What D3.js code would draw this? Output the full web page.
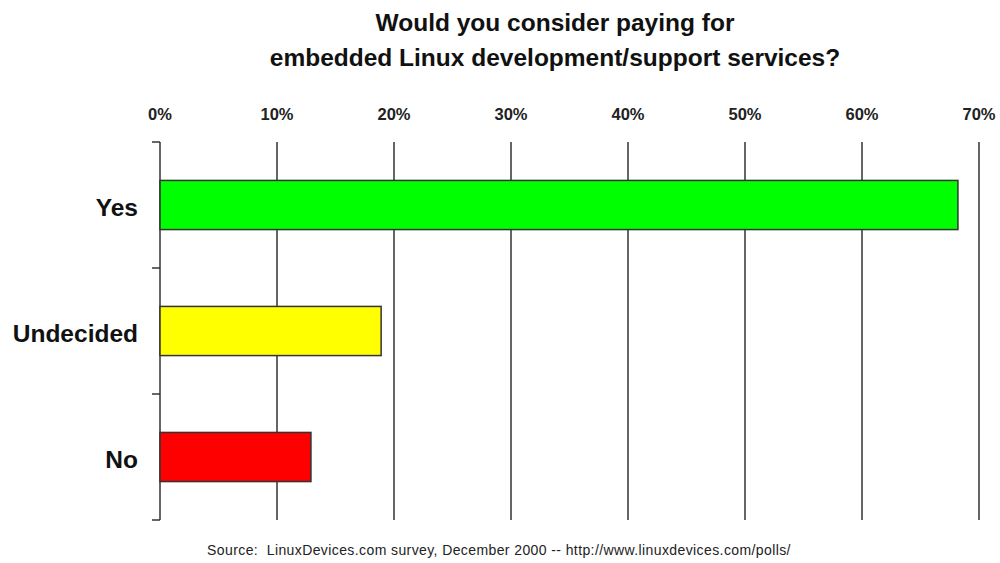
<!DOCTYPE html>
<html>
<head>
<meta charset="utf-8">
<script src="https://cdn.jsdelivr.net/npm/d3@7"></script>
<style>
  html, body { margin: 0; padding: 0; background: #fff; }
  svg { display: block; font-family: "Liberation Sans", Arial, sans-serif; }
  .source { white-space: pre; }
</style>
</head>
<body>
<svg id="chart" width="1000" height="563"></svg>
<script>
// Survey answers and their shares (percent of respondents)
const categories = ["Yes", "Undecided", "No"];
const shares = [68.2, 18.9, 12.9];
const barColors = ["#00ff00", "#ffff00", "#ff0000"];
const tickValues = [0, 10, 20, 30, 40, 50, 60, 70];
const titleLines = [
  "Would you consider paying for",
  "embedded Linux development/support services?"
];
const sourceNote = "Source:  LinuxDevices.com survey, December 2000 -- http://www.linuxdevices.com/polls/";

const svg = d3.select("#chart");
const plot = { left: 160, right: 979, top: 142, bottom: 520 };

const x = d3.scaleLinear().domain([0, 70]).range([plot.left, plot.right]);
const y = d3.scaleBand()
  .domain(categories)
  .range([plot.top, plot.bottom])
  .paddingInner(0.61)
  .paddingOuter(0.305);

// Title
svg.append("g")
  .selectAll("text")
  .data(titleLines)
  .join("text")
  .attr("x", 555)
  .attr("y", (d, i) => 31 + i * 35)
  .attr("text-anchor", "middle")
  .attr("font-size", 24.5)
  .attr("font-weight", "bold")
  .attr("fill", "#111")
  .text(d => d);

// Percent labels along the top
svg.append("g")
  .selectAll("text")
  .data(tickValues)
  .join("text")
  .attr("x", d => x(d))
  .attr("y", 120)
  .attr("text-anchor", "middle")
  .attr("font-size", 16.5)
  .attr("font-weight", "bold")
  .attr("fill", "#222")
  .text(d => d + "%");

// Vertical gridlines
svg.append("g")
  .selectAll("line")
  .data(tickValues.slice(1))
  .join("line")
  .attr("x1", d => x(d))
  .attr("x2", d => x(d))
  .attr("y1", plot.top)
  .attr("y2", plot.bottom)
  .attr("stroke", "#333")
  .attr("stroke-width", 1.5);

// Category axis with ticks between bands
const axis = svg.append("g");
axis.append("line")
  .attr("x1", plot.left).attr("x2", plot.left)
  .attr("y1", plot.top).attr("y2", plot.bottom)
  .attr("stroke", "#333").attr("stroke-width", 1.5);
axis.selectAll("line.tick")
  .data(d3.range(categories.length + 1).map(i => plot.top + i * y.step()))
  .join("line")
  .attr("class", "tick")
  .attr("x1", plot.left - 8).attr("x2", plot.left)
  .attr("y1", d => d).attr("y2", d => d)
  .attr("stroke", "#333").attr("stroke-width", 1.5);

// Category labels
svg.append("g")
  .selectAll("text")
  .data(categories)
  .join("text")
  .attr("x", 138)
  .attr("y", d => y(d) + y.bandwidth() / 2)
  .attr("dy", "0.43em")
  .attr("text-anchor", "end")
  .attr("font-size", 24.5)
  .attr("font-weight", "bold")
  .attr("fill", "#111")
  .text(d => d);

// Bars
svg.append("g")
  .selectAll("rect")
  .data(categories)
  .join("rect")
  .attr("x", x(0))
  .attr("y", d => y(d))
  .attr("width", (d, i) => x(shares[i]) - x(0))
  .attr("height", y.bandwidth())
  .attr("fill", (d, i) => barColors[i])
  .attr("stroke", "#333")
  .attr("stroke-width", 1.5);

// Source note
svg.append("text")
  .attr("class", "source")
  .attr("x", 499)
  .attr("y", 555)
  .attr("text-anchor", "middle")
  .attr("font-size", 14)
  .attr("letter-spacing", 0.4)
  .attr("fill", "#222")
  .text(sourceNote);
</script>
</body>
</html>
